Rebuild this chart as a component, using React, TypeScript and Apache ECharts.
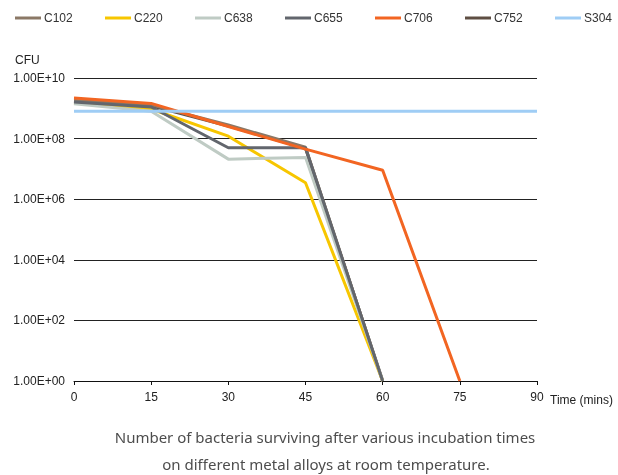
import React, { useEffect, useRef } from "react";
import * as echarts from "echarts";

const times = [0, 15, 30, 45, 60, 75, 90];
const seriesNames = ["C102", "C220", "C638", "C655", "C706", "C752", "S304"];
const c102 = [1.8e9, 1.3e9, 2.8e8, 5.2e7, 1];
const c220 = [1.5e9, 9.5e8, 1.2e8, 3.5e6, 1];
const c638 = [1.4e9, 8e8, 2.1e7, 2.4e7, 1];
const c655 = [1.6e9, 1.1e9, 5e7, 5e7, 1];
const c706 = [2.2e9, 1.45e9, 2.5e8, 4.5e7, 9e6, 1];
const c752 = [1.7e9, 1.2e9, 2.6e8, 4.8e7, 1];
const s304 = [8e8, 8e8, 8e8, 8e8, 8e8, 8e8, 8e8];
const colors = ["#8b7866", "#f7c600", "#bfcbc4", "#62666d", "#f26522", "#5e4e43", "#9fcdf5"];
const caption1 = "Number of bacteria surviving after various incubation times";
const caption2 = "on different metal alloys at room temperature.";

const allValues = [c102, c220, c638, c655, c706, c752, s304];
const zOrder = [2, 2, 2, 3, 4, 1, 5];
const legendLeft = [15, 105, 195, 285, 375, 465, 555];

function fmt(v: number) {
  const e = Math.round(Math.log10(v));
  const s = e < 10 ? "0" + e : String(e);
  return "1.00E+" + s;
}

export default function App() {
  const ref = useRef<HTMLDivElement>(null);
  useEffect(() => {
    const chart = echarts.init(ref.current!, null, { renderer: "svg" });
    const font = "'Liberation Sans', Arial, sans-serif";
    chart.setOption({
      animation: false,
      color: colors,
      textStyle: { fontFamily: font },
      legend: seriesNames.map((n, i) => ({
        data: [n],
        left: legendLeft[i],
        top: 12,
        icon: "rect",
        itemWidth: 26,
        itemHeight: 3,
        padding: 0,
        itemStyle: { color: colors[i] },
        textStyle: { fontSize: 12, color: "#333", fontFamily: font, padding: [0, 0, 0, -2] },
      })),
      grid: { left: 74, right: 81, top: 78, bottom: 94 },
      xAxis: {
        type: "value",
        min: 0,
        max: 90,
        interval: 15,
        axisLine: { show: true, lineStyle: { color: "#111", width: 1 } },
        axisTick: { show: true, length: 4, lineStyle: { color: "#111" } },
        axisLabel: { color: "#222", fontSize: 12, margin: 10 },
        splitLine: { show: false },
      },
      yAxis: {
        type: "log",
        logBase: 100,
        min: 1,
        max: 1e10,
        axisLine: { show: false },
        axisTick: { show: false },
        axisLabel: { color: "#222", fontSize: 12, margin: 9, formatter: (v: number) => fmt(v) },
        splitLine: { show: true, lineStyle: { color: "#222", width: 1 } },
      },
      graphic: [
        { type: "text", left: 15, top: 54, style: { text: "CFU", fontSize: 12, fill: "#222", fontFamily: font } },
        { type: "text", left: 550, top: 394, style: { text: "Time (mins)", fontSize: 12, fill: "#222", fontFamily: font } },
        { type: "text", x: 325, y: 437, style: { text: caption1, fontSize: 15, fill: "#4d4d4d", fontFamily: "'Noto Sans', sans-serif", align: "center", verticalAlign: "middle" } },
        { type: "text", x: 326, y: 464, style: { text: caption2, fontSize: 15, fill: "#4d4d4d", fontFamily: "'Noto Sans', sans-serif", align: "center", verticalAlign: "middle" } },
      ],
      series: seriesNames.map((n, i) => ({
        name: n,
        type: "line",
        symbol: "none",
        z: zOrder[i],
        lineStyle: { width: 3, color: colors[i] },
        itemStyle: { color: colors[i] },
        data: allValues[i].map((v, j) => [times[j], v]),
      })),
    });
    return () => chart.dispose();
  }, []);
  return <div ref={ref} style={{ position: "fixed", left: 0, top: 0, width: 618, height: 475 }} />;
}
